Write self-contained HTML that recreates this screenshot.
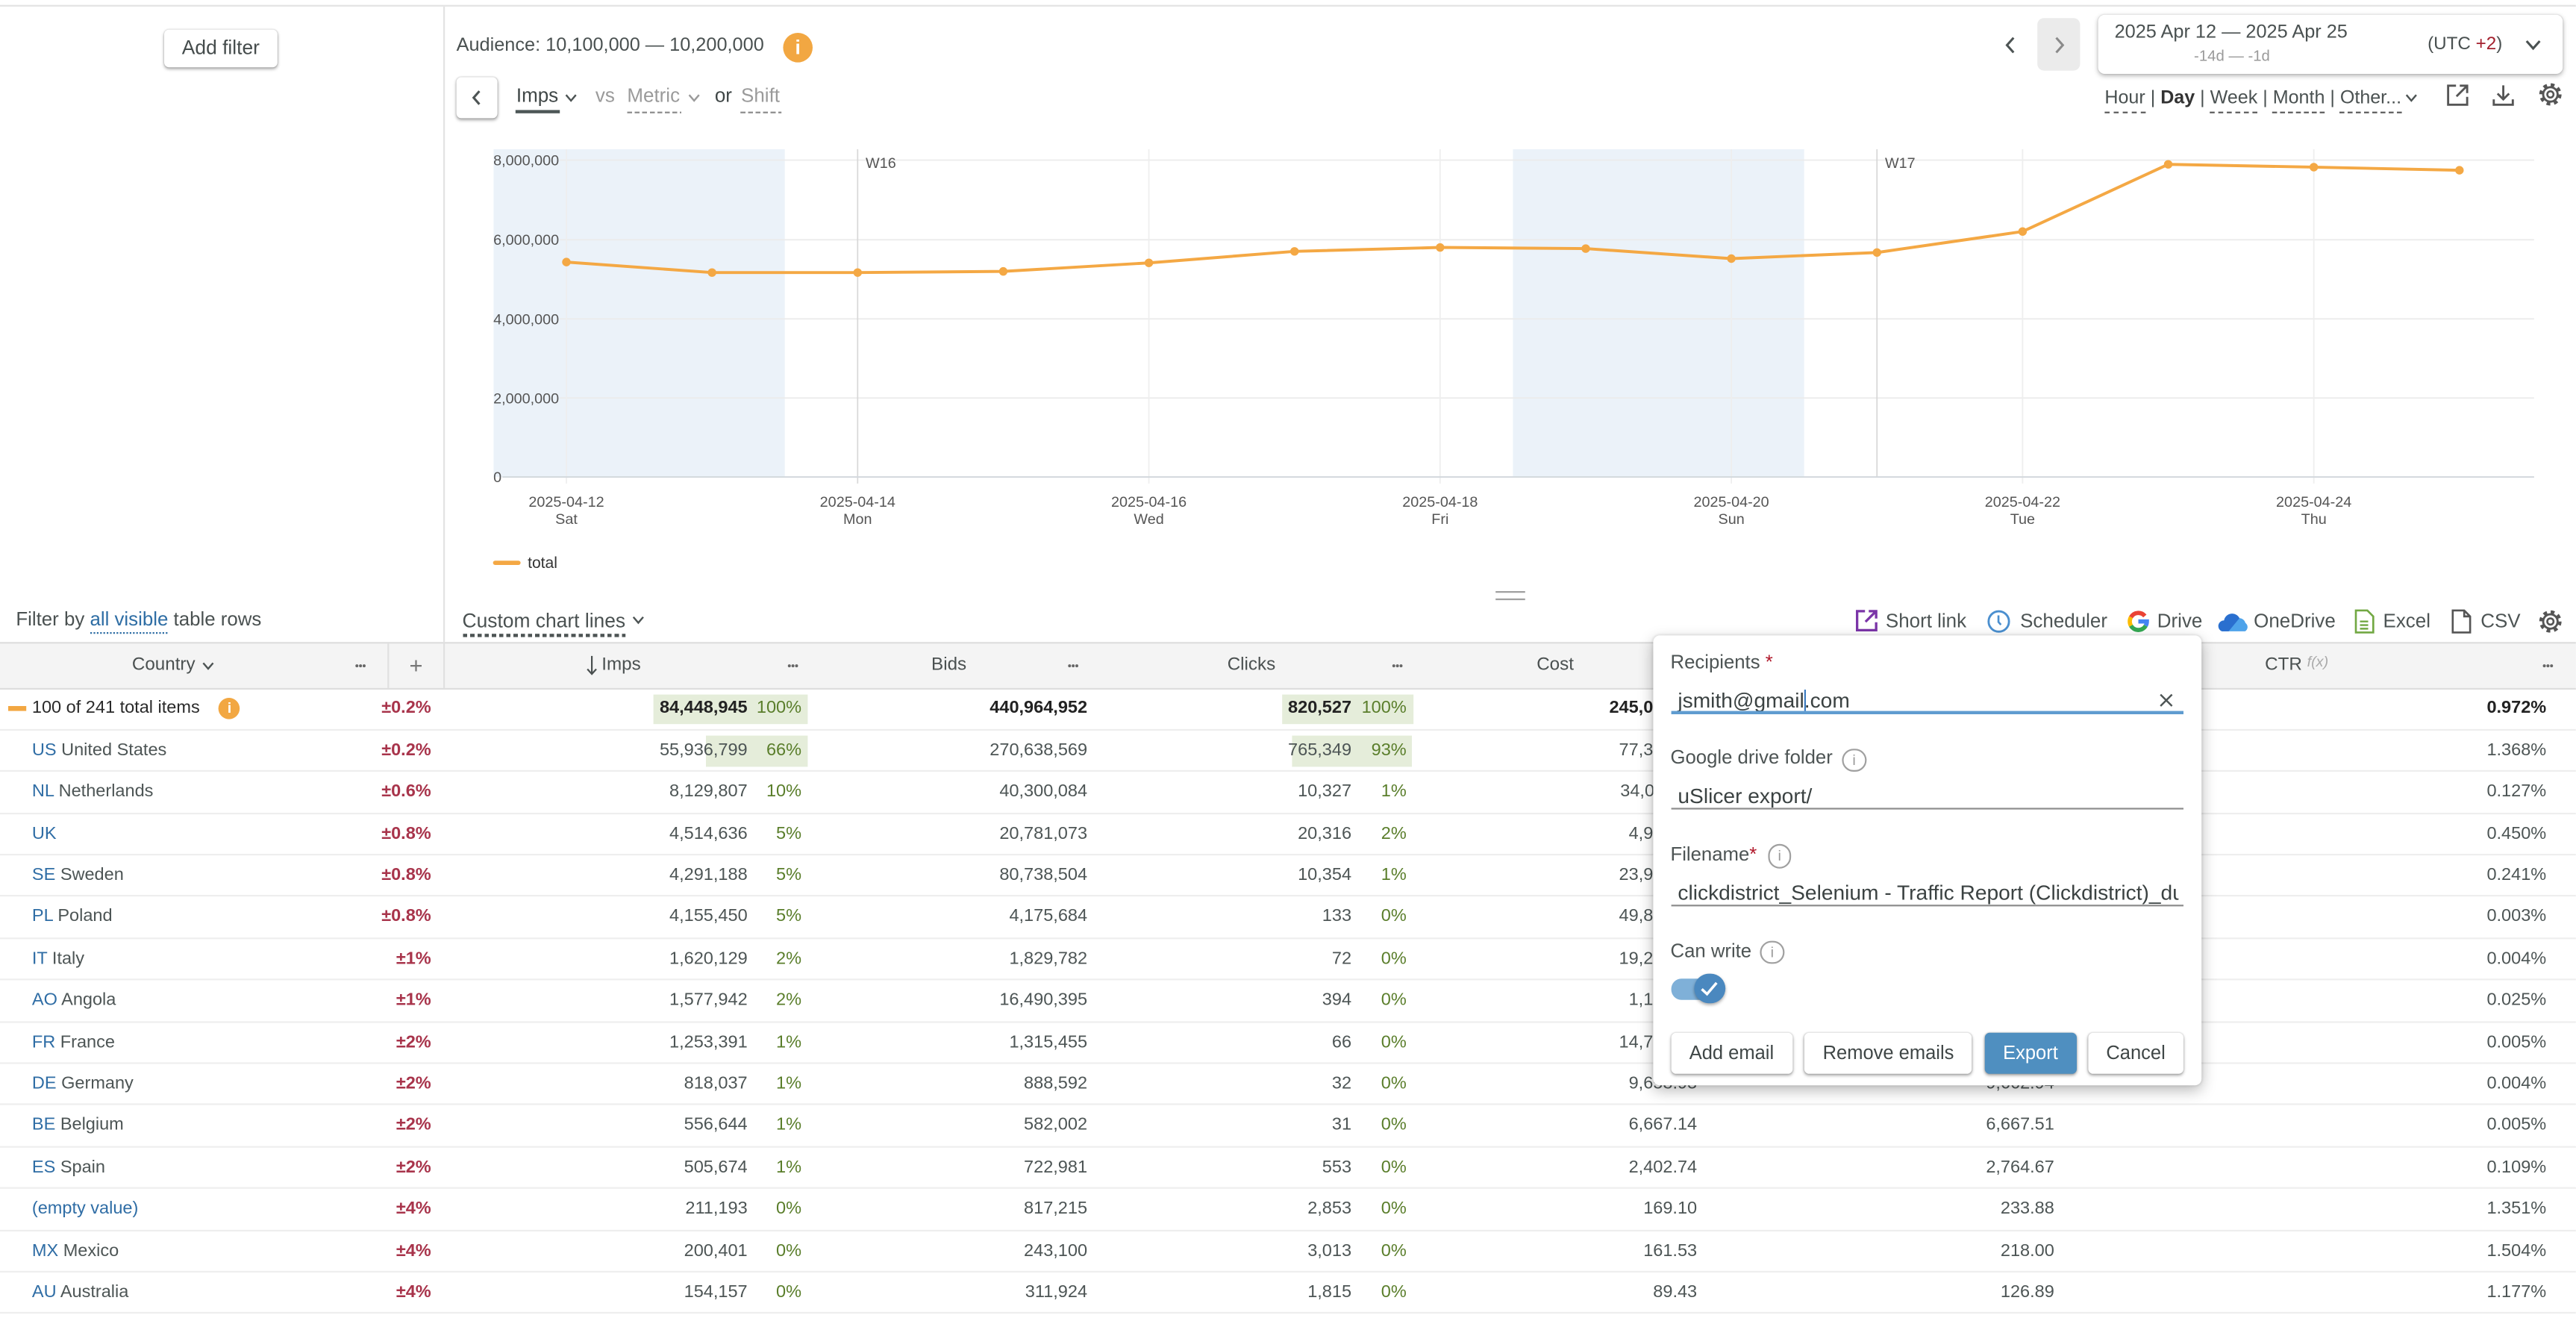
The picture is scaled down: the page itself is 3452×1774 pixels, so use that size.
<!DOCTYPE html>
<html><head><meta charset="utf-8"><title>Report</title>
<style>
html,body{margin:0;padding:0;background:#fff}
body{width:3452px;height:1774px;overflow:hidden;position:relative}
#w{position:absolute;left:0;top:0;width:1569.1px;height:806.4px;transform:scale(2.2);transform-origin:0 0;font-family:"Liberation Sans",Arial,sans-serif;color:#4d5454}
.a{position:absolute}
.t{position:absolute;white-space:nowrap;line-height:14px;height:14px}
.btn{position:absolute;background:#fff;border-radius:3px;box-shadow:0 1px 2px rgba(0,0,0,.35),0 0 1px rgba(0,0,0,.2);text-align:center;white-space:nowrap}
.r{position:absolute;left:0;width:1569.1px;height:25.4px;border-bottom:1px solid #eeeeee;box-sizing:border-box;font-size:10.7px;color:#4d5555}
.r span{position:absolute;top:0;white-space:nowrap;line-height:24.6px}
.r em{font-style:normal;color:#2f6da5}
.n{left:19.5px}
.e{right:1306.5px;color:#a8344b;font-weight:bold}
.i1{right:1113.8px}.p1{right:1080.9px;color:#5a7e2b}
.b{right:906.8px}.k{right:745.9px}.p2{right:712.4px;color:#5a7e2b}
.co{right:535.4px}.x{right:317.8px}.ct{right:18.1px}
.bar{position:absolute;background:#e5edda;height:18.2px;top:3.6px}
.bd{color:#222!important;font-weight:bold}
.dash{position:absolute;height:1.3px;background:repeating-linear-gradient(90deg,#8a8a8a 0 3px,transparent 3px 4.6px)}
.u{border-bottom:1px dashed #555;padding-bottom:2.5px}
.info{position:absolute;width:12.5px;height:12.5px;border:1px solid #a0a0a0;border-radius:50%;color:#999;font-size:9px;line-height:12.5px;text-align:center}
.lbl{font-size:11.7px}
.req{color:#b0182a}
</style></head>
<body><div id="w">

<!-- top border & divider -->
<div class="a" style="left:0;top:2.5px;width:1569.1px;height:1.2px;background:#e3e3e3"></div>
<div class="a" style="left:270px;top:3.5px;width:1px;height:387.5px;background:#e3e3e3"></div>

<!-- left panel -->
<div class="btn" style="left:100px;top:18px;width:69px;height:23px;line-height:23px;font-size:12px;color:#454c4c">Add filter</div>

<!-- audience -->
<div class="t" style="left:278px;top:20.5px;font-size:11.5px;color:#4a5151">Audience: 10,100,000 — 10,200,000</div>
<div class="a" style="left:477px;top:19.5px;width:18px;height:18px;border-radius:50%;background:#f2a742;color:#fff;font-weight:bold;font-size:12px;line-height:18px;text-align:center">i</div>

<!-- metric selector -->
<div class="btn" style="left:278px;top:47px;width:25px;height:25px">
<svg class="a" style="left:0;top:0" width="25" height="25"><polyline points="14,8.5 10.5,12.5 14,16.5" fill="none" stroke="#4d5454" stroke-width="1.4"/></svg></div>
<div class="t" style="left:314.5px;top:51.3px;font-size:11.8px;color:#3f4646">Imps</div>
<svg class="a" style="left:344px;top:56.5px" width="8" height="6"><polyline points="0.8,0.8 3.8,4.3 6.8,0.8" fill="none" stroke="#4d5454" stroke-width="1.1"/></svg>
<div class="a" style="left:314.4px;top:67.2px;width:26.4px;height:1.8px;background:#4d5757"></div>
<div class="t" style="left:362.7px;top:51.3px;font-size:11.8px;color:#9a9a9a">vs</div>
<div class="t" style="left:382px;top:51.3px;font-size:11.8px;color:#9a9a9a">Metric</div>
<svg class="a" style="left:419px;top:56.5px" width="8" height="6"><polyline points="0.8,0.8 3.8,4.3 6.8,0.8" fill="none" stroke="#9a9a9a" stroke-width="1.1"/></svg>
<div class="dash" style="left:382px;top:67.5px;width:33px"></div>
<div class="t" style="left:435.4px;top:51.3px;font-size:11.8px;color:#3f4646">or</div>
<div class="t" style="left:451.4px;top:51.3px;font-size:11.8px;color:#9a9a9a">Shift</div>
<div class="dash" style="left:451.4px;top:67.5px;width:24.4px"></div>

<!-- date nav -->
<svg class="a" style="left:1220px;top:22px" width="9" height="11"><polyline points="6.5,1 2.5,5.5 6.5,10" fill="none" stroke="#4d5454" stroke-width="1.4"/></svg>
<div class="a" style="left:1241.2px;top:10.9px;width:25.4px;height:32.6px;background:#ebebeb;border-radius:4px"></div>
<svg class="a" style="left:1249.5px;top:22px" width="9" height="11"><polyline points="2.5,1 6.5,5.5 2.5,10" fill="none" stroke="#8a8a8a" stroke-width="1.4"/></svg>
<div class="a" style="left:1277.7px;top:9.1px;width:283.7px;height:36.4px;background:#fff;border-radius:4px;box-shadow:0 1px 3px rgba(0,0,0,.3),0 0 1px rgba(0,0,0,.15)"></div>
<div class="t" style="left:1288px;top:13px;font-size:11.5px;color:#4a5151">2025 Apr 12 — 2025 Apr 25</div>
<div class="t" style="left:1336.4px;top:27px;font-size:9.25px;color:#9a9a9a">-14d — -1d</div>
<div class="t" style="left:1478.7px;top:20.3px;font-size:11px;color:#4a5151">(UTC <span style="color:#a3202e">+2</span>)</div>
<svg class="a" style="left:1537.5px;top:24px" width="10" height="7"><polyline points="1,1 5,5.5 9,1" fill="none" stroke="#4a5151" stroke-width="1.4"/></svg>

<!-- granularity -->
<div class="t" style="left:1282px;top:52.5px;font-size:11.4px;color:#4a5151"><span class="u">Hour</span> | <b style="color:#333">Day</b> | <span class="u">Week</span> | <span class="u">Month</span> | <span class="u">Other...</span></div>
<svg class="a" style="left:1465px;top:57px" width="8" height="6"><polyline points="0.8,0.8 3.8,4.3 6.8,0.8" fill="none" stroke="#4d5454" stroke-width="1.1"/></svg>
<svg class="a" style="left:1490px;top:50.5px" width="14" height="14"><path d="M6 1.2H1.2v11.6h11.6V8" fill="none" stroke="#555" stroke-width="1.3"/><path d="M8.3 1.2h4.5v4.5M12.8 1.2L6.3 7.7" fill="none" stroke="#555" stroke-width="1.3"/></svg>
<svg class="a" style="left:1518px;top:50.5px" width="14" height="14"><path d="M6.8 1v8.5M3.3 6l3.5 3.5L10.3 6M1 9.5v3.3h11.6V9.5" fill="none" stroke="#555" stroke-width="1.3"/></svg>
<svg class="a" style="left:1546px;top:50.3px" width="15" height="15"><circle cx="7.5" cy="7.5" r="5.6" fill="none" stroke="#555" stroke-width="2.4" stroke-dasharray="2.2 2.2"/><circle cx="7.5" cy="7.5" r="4.4" fill="none" stroke="#555" stroke-width="1.3"/><circle cx="7.5" cy="7.5" r="1.9" fill="none" stroke="#555" stroke-width="1.2"/></svg>

<!-- chart -->
<svg class="a" style="left:0;top:0" width="1569.1" height="806.4" viewBox="0 0 1569.1 806.4" font-family="Liberation Sans, Arial, sans-serif">
<rect x="300.65" y="90.9" width="177.4" height="199.6" fill="#ebf2f9"/>
<rect x="921.55" y="90.9" width="177.4" height="199.6" fill="#ebf2f9"/>
<g stroke="#ebebeb" stroke-width="0.8">
<line x1="341" y1="97.5" x2="1543.6" y2="97.5"/>
<line x1="341" y1="146" x2="1543.6" y2="146"/>
<line x1="341" y1="194.2" x2="1543.6" y2="194.2"/>
<line x1="341" y1="242.4" x2="1543.6" y2="242.4"/>
</g>
<g stroke="#eeeeee" stroke-width="0.8">
<line x1="345" y1="90.9" x2="345" y2="294.5"/>
<line x1="699.8" y1="90.9" x2="699.8" y2="294.5"/>
<line x1="877.2" y1="90.9" x2="877.2" y2="294.5"/>
<line x1="1054.6" y1="90.9" x2="1054.6" y2="294.5"/>
<line x1="1232" y1="90.9" x2="1232" y2="294.5"/>
<line x1="1409.4" y1="90.9" x2="1409.4" y2="294.5"/>
</g>
<g stroke="#d8d8d8" stroke-width="0.8">
<line x1="522.4" y1="90.9" x2="522.4" y2="294.5"/>
<line x1="1143.3" y1="90.9" x2="1143.3" y2="290.5"/>
</g>
<line x1="306" y1="290.5" x2="1543.6" y2="290.5" stroke="#d3d8dd" stroke-width="0.9"/>
<g font-size="9" fill="#555">
<text x="300.5" y="100.7">8,000,000</text>
<text x="300.5" y="149.2">6,000,000</text>
<text x="300.5" y="197.4">4,000,000</text>
<text x="300.5" y="245.6">2,000,000</text>
<text x="300.5" y="293.7">0</text>
<text x="527.3" y="102.3">W16</text>
<text x="1148.2" y="102.3">W17</text>
</g>
<g font-size="9" fill="#555" text-anchor="middle">
<text x="345" y="308.6">2025-04-12</text><text x="345" y="319">Sat</text>
<text x="522.4" y="308.6">2025-04-14</text><text x="522.4" y="319">Mon</text>
<text x="699.8" y="308.6">2025-04-16</text><text x="699.8" y="319">Wed</text>
<text x="877.2" y="308.6">2025-04-18</text><text x="877.2" y="319">Fri</text>
<text x="1054.6" y="308.6">2025-04-20</text><text x="1054.6" y="319">Sun</text>
<text x="1232" y="308.6">2025-04-22</text><text x="1232" y="319">Tue</text>
<text x="1409.4" y="308.6">2025-04-24</text><text x="1409.4" y="319">Thu</text>
</g>
<polyline fill="none" stroke="#f4a844" stroke-width="1.8" stroke-linejoin="round" points="345,159.6 433.7,166 522.4,166 611.1,165.3 699.8,160.1 788.5,153.1 877.2,150.7 965.9,151.4 1054.6,157.5 1143.3,153.8 1232,141 1320.7,100.1 1409.4,101.8 1498.1,103.7"/>
<g fill="#f4a844">
<circle cx="345" cy="159.6" r="2.6"/><circle cx="433.7" cy="166" r="2.6"/><circle cx="522.4" cy="166" r="2.6"/><circle cx="611.1" cy="165.3" r="2.6"/><circle cx="699.8" cy="160.1" r="2.6"/><circle cx="788.5" cy="153.1" r="2.6"/><circle cx="877.2" cy="150.7" r="2.6"/><circle cx="965.9" cy="151.4" r="2.6"/><circle cx="1054.6" cy="157.5" r="2.6"/><circle cx="1143.3" cy="153.8" r="2.6"/><circle cx="1232" cy="141" r="2.6"/><circle cx="1320.7" cy="100.1" r="2.6"/><circle cx="1409.4" cy="101.8" r="2.6"/><circle cx="1498.1" cy="103.7" r="2.6"/>
</g>
<rect x="300.3" y="341.5" width="16.8" height="2.6" rx="1.3" fill="#f4a844"/>
<text x="321.4" y="346" font-size="9.6" fill="#333">total</text>
<line x1="911" y1="360.5" x2="929" y2="360.5" stroke="#a0a0a0" stroke-width="1"/>
<line x1="911" y1="365" x2="929" y2="365" stroke="#a0a0a0" stroke-width="1"/>
</svg>

<!-- filter/toolbar row -->
<div class="t" style="left:9.7px;top:371px;font-size:11.75px;color:#4a5151">Filter by <span style="color:#2e6da4;border-bottom:1.3px dotted #2e6da4;padding-bottom:0.5px">all visible</span> table rows</div>
<div class="t" style="left:281.6px;top:370.5px;font-size:12px;color:#4a5151">Custom chart lines</div>
<svg class="a" style="left:384.5px;top:375px" width="8" height="6"><polyline points="0.8,0.8 3.8,4.3 6.8,0.8" fill="none" stroke="#4d5454" stroke-width="1.1"/></svg>
<div class="a" style="left:281.6px;top:386.3px;width:99px;height:1.3px;background:repeating-linear-gradient(90deg,#4d5454 0 2.6px,transparent 2.6px 4.4px)"></div>

<svg class="a" style="left:1130px;top:371.2px" width="14" height="14"><path d="M6 1.2H1.2v11.6h11.6V8" fill="none" stroke="#7b35a8" stroke-width="1.5"/><path d="M8.3 1.2h4.5v4.5M12.8 1.2L6.3 7.7" fill="none" stroke="#7b35a8" stroke-width="1.5"/></svg>
<div class="t" style="left:1148.6px;top:371px;font-size:11.8px">Short link</div>
<svg class="a" style="left:1210px;top:371px" width="15" height="15"><circle cx="7.5" cy="7.5" r="6.2" fill="none" stroke="#4b8fcf" stroke-width="1.3"/><path d="M7.3 3.8V7.8L8.8 9.5" fill="none" stroke="#4b8fcf" stroke-width="1.2"/></svg>
<div class="t" style="left:1230.5px;top:371px;font-size:11.8px">Scheduler</div>
<svg class="a" style="left:1294.6px;top:370.8px" width="15" height="15" fill="none" stroke-width="2.6">
<path d="M11.48 4.16 A5.2 5.2 0 0 0 3 4.9" stroke="#ea4335"/>
<path d="M3 4.9 A5.2 5.2 0 0 0 3 10.1" stroke="#fbbc05"/>
<path d="M3 10.1 A5.2 5.2 0 0 0 12 10.1" stroke="#34a853"/>
<path d="M12 10.1 A5.2 5.2 0 0 0 12.7 7.5 H7.5" stroke="#4285f4"/></svg>
<div class="t" style="left:1314px;top:371px;font-size:11.8px">Drive</div>
<svg class="a" style="left:1351px;top:371.5px" width="19" height="14"><path d="M2.5 12.5 a3.4 3.4 0 0 1 1.2-6.6 a5 5 0 0 1 9.4-1.4 a3.8 3.8 0 0 1 3.6 2.9 a3 3 0 0 1 -0.2 5.1 z" fill="#4ea3ea"/><path d="M3.7 5.9 a5 5 0 0 1 9.4-1.4 L6.5 12.5 H2.5 a3.4 3.4 0 0 1 1.2-6.6z" fill="#2a6fcf"/></svg>
<div class="t" style="left:1372.8px;top:371px;font-size:11.8px">OneDrive</div>
<svg class="a" style="left:1433.7px;top:370.8px" width="13" height="15"><path d="M1 0.8h7l3.6 3.6v9.8H1z" fill="none" stroke="#72a843" stroke-width="1.2"/><path d="M3.5 7.5h5M3.5 9.7h5M3.5 11.9h5" stroke="#72a843" stroke-width="1.1"/></svg>
<div class="t" style="left:1451.6px;top:371px;font-size:11.8px">Excel</div>
<svg class="a" style="left:1492.7px;top:370.8px" width="13" height="15"><path d="M1 0.8h7l3.6 3.6v9.8H1z M8 0.8v3.6h3.6" fill="none" stroke="#555" stroke-width="1.2"/></svg>
<div class="t" style="left:1511px;top:371px;font-size:11.8px">CSV</div>
<svg class="a" style="left:1545.8px;top:370.5px" width="15" height="15"><circle cx="7.5" cy="7.5" r="5.6" fill="none" stroke="#555" stroke-width="2.4" stroke-dasharray="2.2 2.2"/><circle cx="7.5" cy="7.5" r="4.4" fill="none" stroke="#555" stroke-width="1.3"/><circle cx="7.5" cy="7.5" r="1.9" fill="none" stroke="#555" stroke-width="1.2"/></svg>

<!-- table header -->
<div class="a" style="left:0;top:390.5px;width:1569.1px;height:29px;background:#f4f4f4;border-top:1.2px solid #dedede;border-bottom:1.2px solid #dedede;box-sizing:border-box"></div>
<div class="a" style="left:236.3px;top:391.5px;width:1px;height:27px;background:#e0e0e0"></div>
<div class="a" style="left:270px;top:391.5px;width:1px;height:27px;background:#e0e0e0"></div>
<div class="t" style="left:80.4px;top:398.3px;font-size:11px;color:#4a5050">Country</div>
<svg class="a" style="left:122.5px;top:403px" width="8" height="6"><polyline points="0.8,0.8 3.8,4.3 6.8,0.8" fill="none" stroke="#4d5454" stroke-width="1.1"/></svg>
<div class="t" style="left:249.3px;top:397.5px;font-size:14px;color:#777">+</div>
<svg class="a" style="left:356.8px;top:399px" width="8" height="13"><path d="M3.5 0.5V11.5M0.8 8.5l2.7 3 2.7-3" fill="none" stroke="#4a5050" stroke-width="1"/></svg>
<div class="t" style="left:366.5px;top:398.3px;font-size:11px;color:#4a5050">Imps</div>
<div class="t" style="left:567.3px;top:398.3px;font-size:11px;color:#4a5050">Bids</div>
<div class="t" style="left:747.6px;top:398.3px;font-size:11px;color:#4a5050">Clicks</div>
<div class="t" style="left:936px;top:398.3px;font-size:11px;color:#4a5050">Cost</div>
<div class="t" style="left:1130px;top:398.3px;font-size:11px;color:#4a5050">Spend</div>
<div class="t" style="left:1379.6px;top:398.3px;font-size:11px;color:#4a5050">CTR <span style="font-style:italic;color:#aaa;font-size:9px;position:relative;top:-2px">f(x)</span></div>
<svg class="a" style="left:0;top:403.8px" width="1569.1" height="3">
<g fill="#666">
<circle cx="217.4" cy="1.5" r="0.9"/><circle cx="219.6" cy="1.5" r="0.9"/><circle cx="221.8" cy="1.5" r="0.9"/>
<circle cx="480.8" cy="1.5" r="0.9"/><circle cx="483" cy="1.5" r="0.9"/><circle cx="485.2" cy="1.5" r="0.9"/>
<circle cx="651.5" cy="1.5" r="0.9"/><circle cx="653.7" cy="1.5" r="0.9"/><circle cx="655.9" cy="1.5" r="0.9"/>
<circle cx="849" cy="1.5" r="0.9"/><circle cx="851.2" cy="1.5" r="0.9"/><circle cx="853.4" cy="1.5" r="0.9"/>
<circle cx="1549.8" cy="1.5" r="0.9"/><circle cx="1552" cy="1.5" r="0.9"/><circle cx="1554.2" cy="1.5" r="0.9"/>
</g></svg>

<!-- rows -->
<div class="r" style="top:419.4px">
<div class="bar" style="left:397.7px;width:94.6px"></div>
<div class="bar" style="left:781px;width:79.5px"></div>
<div class="a" style="left:4.9px;top:10.6px;width:11.3px;height:2.6px;background:#f2a742"></div>
<span class="n" style="color:#2a2a2a">100 of 241 total items</span>
<div class="a" style="left:133.3px;top:5.6px;width:13px;height:13px;border-radius:50%;background:#f2a742;color:#fff;font-size:9px;line-height:13px;text-align:center;font-weight:bold">i</div>
<span class="e">±0.2%</span><span class="i1 bd">84,448,945</span><span class="p1">100%</span><span class="b bd">440,964,952</span><span class="k bd">820,527</span><span class="p2">100%</span><span class="co bd">245,071.32</span><span class="x bd">246,118.05</span><span class="ct bd">0.972%</span></div>
<div class="r" style="top:444.8px">
<div class="bar" style="left:429.9px;width:62.4px"></div>
<div class="bar" style="left:786.6px;width:73.9px"></div>
<span class="n"><em>US</em> United States</span><span class="e">±0.2%</span><span class="i1">55,936,799</span><span class="p1">66%</span><span class="b">270,638,569</span><span class="k">765,349</span><span class="p2">93%</span><span class="co">77,312.58</span><span class="x">77,340.12</span><span class="ct">1.368%</span></div>
<div class="r" style="top:470.2px"><span class="n"><em>NL</em> Netherlands</span><span class="e">±0.6%</span><span class="i1">8,129,807</span><span class="p1">10%</span><span class="b">40,300,084</span><span class="k">10,327</span><span class="p2">1%</span><span class="co">34,023.11</span><span class="x">34,055.20</span><span class="ct">0.127%</span></div>
<div class="r" style="top:495.6px"><span class="n"><em>UK</em></span><span class="e">±0.8%</span><span class="i1">4,514,636</span><span class="p1">5%</span><span class="b">20,781,073</span><span class="k">20,316</span><span class="p2">2%</span><span class="co">4,912.40</span><span class="x">4,918.33</span><span class="ct">0.450%</span></div>
<div class="r" style="top:521px"><span class="n"><em>SE</em> Sweden</span><span class="e">±0.8%</span><span class="i1">4,291,188</span><span class="p1">5%</span><span class="b">80,738,504</span><span class="k">10,354</span><span class="p2">1%</span><span class="co">23,934.77</span><span class="x">23,960.01</span><span class="ct">0.241%</span></div>
<div class="r" style="top:546.4px"><span class="n"><em>PL</em> Poland</span><span class="e">±0.8%</span><span class="i1">4,155,450</span><span class="p1">5%</span><span class="b">4,175,684</span><span class="k">133</span><span class="p2">0%</span><span class="co">49,812.05</span><span class="x">49,870.44</span><span class="ct">0.003%</span></div>
<div class="r" style="top:571.8px"><span class="n"><em>IT</em> Italy</span><span class="e">±1%</span><span class="i1">1,620,129</span><span class="p1">2%</span><span class="b">1,829,782</span><span class="k">72</span><span class="p2">0%</span><span class="co">19,234.60</span><span class="x">19,250.12</span><span class="ct">0.004%</span></div>
<div class="r" style="top:597.2px"><span class="n"><em>AO</em> Angola</span><span class="e">±1%</span><span class="i1">1,577,942</span><span class="p1">2%</span><span class="b">16,490,395</span><span class="k">394</span><span class="p2">0%</span><span class="co">1,123.48</span><span class="x">1,130.77</span><span class="ct">0.025%</span></div>
<div class="r" style="top:622.6px"><span class="n"><em>FR</em> France</span><span class="e">±2%</span><span class="i1">1,253,391</span><span class="p1">1%</span><span class="b">1,315,455</span><span class="k">66</span><span class="p2">0%</span><span class="co">14,712.90</span><span class="x">14,730.05</span><span class="ct">0.005%</span></div>
<div class="r" style="top:648px"><span class="n"><em>DE</em> Germany</span><span class="e">±2%</span><span class="i1">818,037</span><span class="p1">1%</span><span class="b">888,592</span><span class="k">32</span><span class="p2">0%</span><span class="co">9,658.93</span><span class="x">9,662.94</span><span class="ct">0.004%</span></div>
<div class="r" style="top:673.4px"><span class="n"><em>BE</em> Belgium</span><span class="e">±2%</span><span class="i1">556,644</span><span class="p1">1%</span><span class="b">582,002</span><span class="k">31</span><span class="p2">0%</span><span class="co">6,667.14</span><span class="x">6,667.51</span><span class="ct">0.005%</span></div>
<div class="r" style="top:698.8px"><span class="n"><em>ES</em> Spain</span><span class="e">±2%</span><span class="i1">505,674</span><span class="p1">1%</span><span class="b">722,981</span><span class="k">553</span><span class="p2">0%</span><span class="co">2,402.74</span><span class="x">2,764.67</span><span class="ct">0.109%</span></div>
<div class="r" style="top:724.2px"><span class="n"><em>(empty value)</em></span><span class="e">±4%</span><span class="i1">211,193</span><span class="p1">0%</span><span class="b">817,215</span><span class="k">2,853</span><span class="p2">0%</span><span class="co">169.10</span><span class="x">233.88</span><span class="ct">1.351%</span></div>
<div class="r" style="top:749.6px"><span class="n"><em>MX</em> Mexico</span><span class="e">±4%</span><span class="i1">200,401</span><span class="p1">0%</span><span class="b">243,100</span><span class="k">3,013</span><span class="p2">0%</span><span class="co">161.53</span><span class="x">218.00</span><span class="ct">1.504%</span></div>
<div class="r" style="top:775px"><span class="n"><em>AU</em> Australia</span><span class="e">±4%</span><span class="i1">154,157</span><span class="p1">0%</span><span class="b">311,924</span><span class="k">1,815</span><span class="p2">0%</span><span class="co">89.43</span><span class="x">126.89</span><span class="ct">1.177%</span></div>

<!-- export popup -->
<div class="a" style="left:1006.5px;top:387px;width:334px;height:274.2px;background:#fff;border-radius:4px;box-shadow:0 3px 9px rgba(0,0,0,.28),0 0 2px rgba(0,0,0,.15);z-index:5">
<div class="t lbl" style="left:11px;top:9.7px">Recipients<span class="req"> *</span></div>
<div class="t" style="left:15.5px;top:32px;font-size:12.8px;color:#3b4242;height:15px;line-height:15px">jsmith@gmail.com</div>
<div class="a" style="left:92.5px;top:32.5px;width:0.8px;height:13.5px;background:#3d7cc0"></div>
<svg class="a" style="left:308.5px;top:35px" width="9" height="9"><path d="M1 1L8 8M8 1L1 8" stroke="#4d5454" stroke-width="1.1"/></svg>
<div class="a" style="left:11px;top:46.2px;width:312.2px;height:1.6px;background:#5f9cd0"></div>
<div class="t lbl" style="left:11px;top:68.3px">Google drive folder</div>
<div class="info" style="left:115.6px;top:68.5px">i</div>
<div class="t" style="left:15.5px;top:90px;font-size:12.8px;color:#3b4242;height:15px;line-height:15px">uSlicer export/</div>
<div class="a" style="left:11px;top:105.2px;width:312.2px;height:1.2px;background:#8c8c8c"></div>
<div class="t lbl" style="left:11px;top:126.8px">Filename<span class="req">*</span></div>
<div class="info" style="left:70.2px;top:127px">i</div>
<div class="t" style="left:15.5px;top:148.7px;font-size:12.8px;color:#3b4242;height:15px;line-height:15px;width:305px;overflow:hidden">clickdistrict_Selenium - Traffic Report (Clickdistrict)_dumps</div>
<div class="a" style="left:11px;top:164px;width:312.2px;height:1.2px;background:#8c8c8c"></div>
<div class="t lbl" style="left:11px;top:185.6px">Can write</div>
<div class="info" style="left:65.7px;top:185.8px">i</div>
<div class="a" style="left:11.2px;top:209px;width:30px;height:12.5px;border-radius:6.25px;background:#7fb0d8"></div>
<div class="a" style="left:25.9px;top:206.3px;width:18.2px;height:18.2px;border-radius:50%;background:#4a88bf;box-shadow:0 1px 2px rgba(0,0,0,.35)">
<svg class="a" style="left:0;top:0" width="18.2" height="18.2"><polyline points="4.6,9.4 7.8,12.4 13.6,5.6" fill="none" stroke="#fff" stroke-width="1.6"/></svg></div>
<div class="btn" style="left:11.2px;top:241.7px;width:74.1px;height:25.3px;line-height:25.3px;font-size:11.6px;color:#3f4646">Add email</div>
<div class="btn" style="left:92.8px;top:241.7px;width:101.9px;height:25.3px;line-height:25.3px;font-size:11.6px;color:#3f4646">Remove emails</div>
<div class="btn" style="left:202.5px;top:241.7px;width:55.6px;height:25.3px;line-height:25.3px;font-size:11.6px;color:#fff;background:#4f8fc0">Export</div>
<div class="btn" style="left:265.8px;top:241.7px;width:57.3px;height:25.3px;line-height:25.3px;font-size:11.6px;color:#3f4646">Cancel</div>
</div>

</div></body></html>
